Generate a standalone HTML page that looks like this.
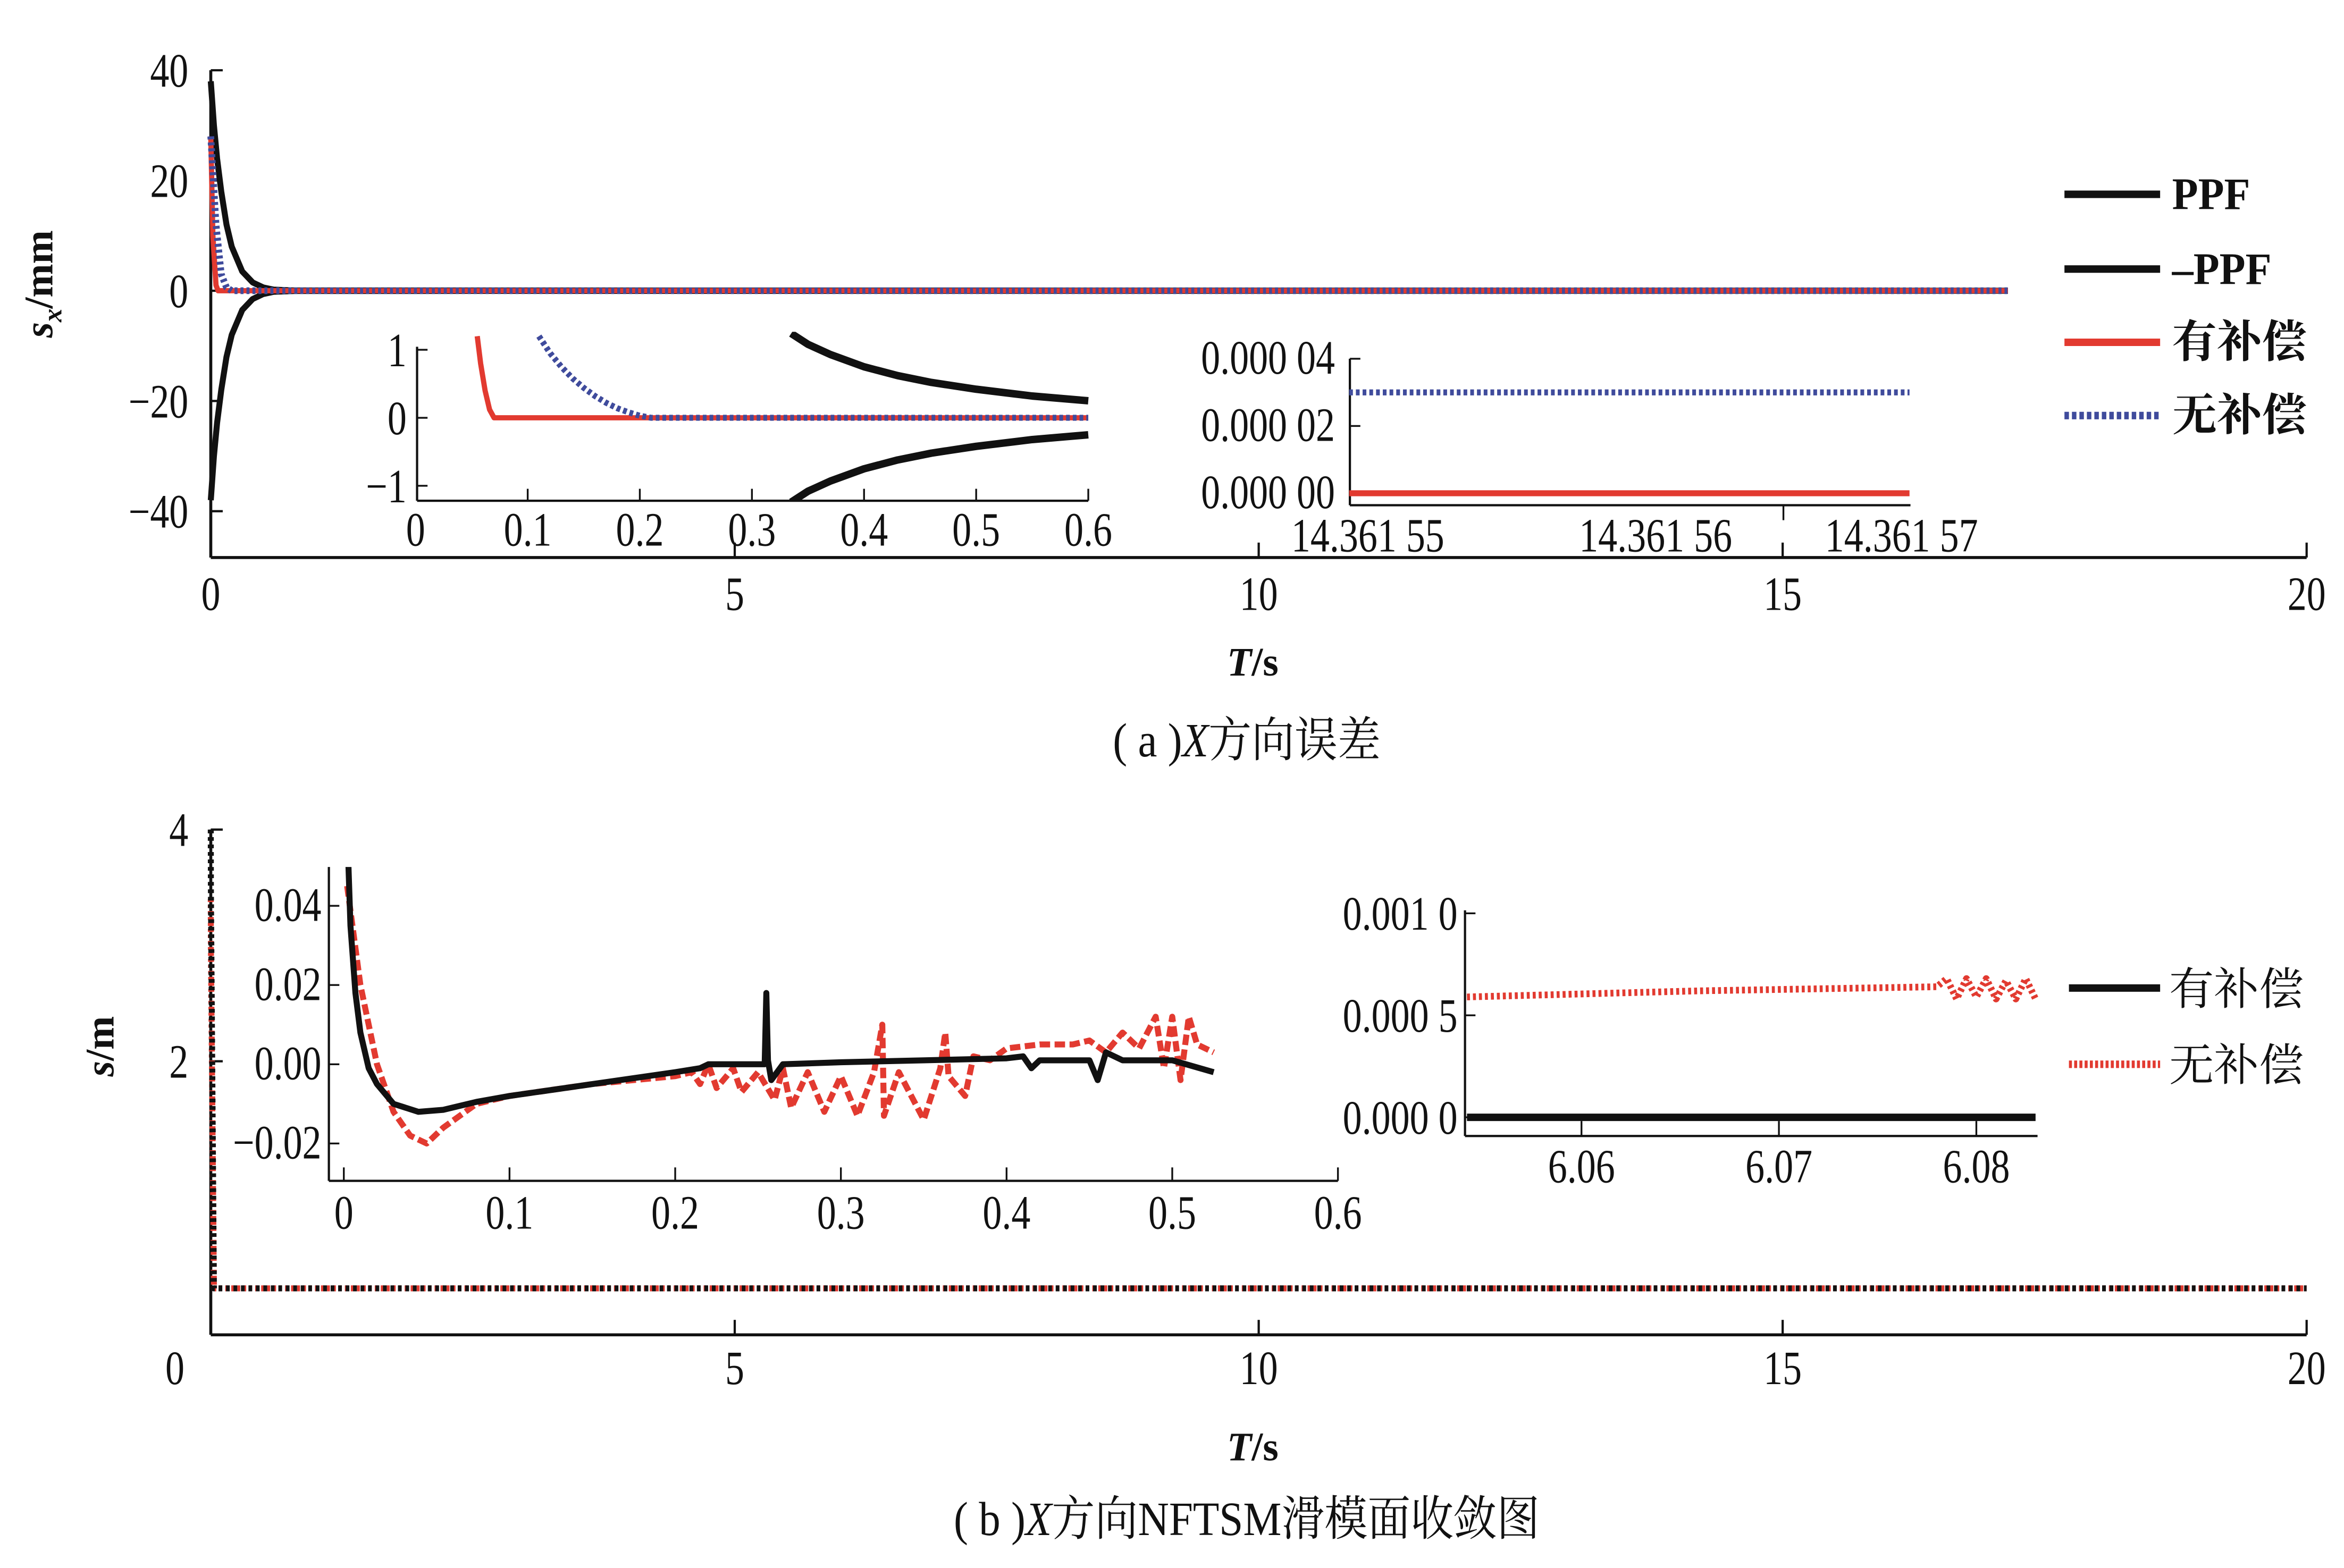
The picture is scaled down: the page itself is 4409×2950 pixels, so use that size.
<!DOCTYPE html>
<html><head><meta charset="utf-8"><style>
html,body{margin:0;padding:0;background:#fff;}
svg{display:block;}
text{font-family:"Liberation Serif","Noto Serif CJK SC",serif;fill:#111;}
</style></head><body>
<svg id="fig" width="4409" height="2950" viewBox="0 0 1568 1049" preserveAspectRatio="none" xmlns="http://www.w3.org/2000/svg">
<defs>
<clipPath id="cA1"><rect x="279" y="222" width="450" height="113"/></clipPath>
<clipPath id="cB1"><rect x="221" y="580" width="675" height="210"/></clipPath>
</defs>
<g id="root"></g>
</svg>
<script>
// ---------- Panel (a) main data ----------
const aXTicks=[0,5,10,15,20];
const aYTicks=[40,20,0,-20,-40];
const aYTickLabels=["40","20","0","\u221220","\u221240"];
const ppfT=[0,0.03,0.06,0.1,0.15,0.2,0.3,0.4,0.5,0.6,0.8,17.15];
const ppfV=[38,30,24,18,12,8,3.5,1.5,0.6,0.2,0.05,0];
const nppfV=[-38,-30,-24,-18,-12,-8,-3.5,-1.5,-0.6,-0.2,-0.05,0];
const redT=[0,0.02,0.05,0.07,17.15];
const redV=[28,10,1,0,0];
const blueT=[0,0.05,0.1,0.15,0.2,17.15];
const blueV=[28,12,3,0.6,0,0];
// ---------- Inset a1 ----------
const a1XTicks=[0,0.1,0.2,0.3,0.4,0.5,0.6];
const a1YTicks=[1,0,-1];
const a1YTickLabels=["1","0","\u22121"];
const a1PpfT=[0.335,0.35,0.37,0.4,0.43,0.46,0.5,0.55,0.6];
const a1PpfV=[1.24,1.08,0.93,0.75,0.62,0.52,0.42,0.32,0.25];
const a1NppfV=[-1.24,-1.08,-0.93,-0.75,-0.62,-0.52,-0.42,-0.32,-0.25];
const a1RedT=[0.055,0.058,0.062,0.066,0.07,0.6];
const a1RedV=[1.2,0.8,0.4,0.12,0,0];
const a1BlueT=[0.11,0.12,0.13,0.14,0.15,0.16,0.17,0.18,0.19,0.2,0.21,0.6];
const a1BlueV=[1.2,0.95,0.75,0.58,0.44,0.32,0.22,0.14,0.08,0.03,0,0];
// ---------- Inset a2 ----------
const a2YTicks=[0.00004,0.00002,0];
const a2YTickLabels=["0.000 04","0.000 02","0.000 00"];
const a2XTicks=[14.36155,14.36156,14.36157];
const a2XTickLabels=["14.361 55","14.361 56","14.361 57"];
const a2T=[14.3615493,14.3615703];
const a2BlueV=[0.00003,0.00003];
const a2RedV=[0,0];
// ---------- Panel (b) main ----------
const bXTicks=[0,5,10,15,20];
const bYTicks=[4,2];
const bBlackT=[0,0.001,0.03,20];
const bBlackV=[4,3.5,0.04,0.04];
const bRedT=[0,0.001,0.03,20];
const bRedV=[3.4,3.0,0.04,0.04];
// ---------- Inset b1 ----------
const b1XTicks=[0,0.1,0.2,0.3,0.4,0.5,0.6];
const b1YTicks=[0.04,0.02,0,-0.02];
const b1YTickLabels=["0.04","0.02","0.00","\u22120.02"];
const b1BlackT=[0.002,0.004,0.007,0.01,0.015,0.02,0.03,0.045,0.06,0.08,0.1,0.15,0.2,0.215,0.22,0.254,0.255,0.256,0.258,0.265,0.3,0.35,0.4,0.41,0.415,0.42,0.45,0.455,0.46,0.47,0.5,0.525];
const b1BlackV=[0.06,0.035,0.018,0.008,-0.001,-0.005,-0.01,-0.012,-0.0115,-0.0095,-0.008,-0.005,-0.002,-0.001,0,0,0.018,0.001,-0.004,0,0.0005,0.001,0.0015,0.002,-0.001,0.001,0.001,-0.004,0.003,0.001,0.001,-0.002];
const b1RedT=[0.002,0.01,0.02,0.03,0.04,0.05,0.06,0.08,0.1,0.15,0.2,0.21,0.215,0.22,0.225,0.235,0.24,0.25,0.26,0.265,0.27,0.28,0.29,0.3,0.31,0.32,0.325,0.326,0.335,0.35,0.36,0.363,0.365,0.375,0.38,0.39,0.4,0.42,0.44,0.45,0.46,0.47,0.48,0.49,0.495,0.5,0.505,0.51,0.515,0.525];
const b1RedV=[0.045,0.02,0.0,-0.012,-0.018,-0.02,-0.016,-0.01,-0.008,-0.005,-0.003,-0.002,-0.005,0.0,-0.006,-0.001,-0.007,-0.002,-0.009,-0.001,-0.011,-0.002,-0.012,-0.003,-0.013,-0.002,0.01,-0.013,-0.002,-0.014,-0.001,0.008,-0.003,-0.008,0.002,0.001,0.004,0.005,0.005,0.006,0.003,0.008,0.004,0.012,-0.001,0.012,-0.004,0.012,0.005,0.003];
// ---------- Inset b2 ----------
const b2YTicks=[0.001,0.0005,0];
const b2YTickLabels=["0.001 0","0.000 5","0.000 0"];
const b2XTicks=[6.06,6.07,6.08];
const b2XTickLabels=["6.06","6.07","6.08"];
const b2RedT=[6.0542,6.066,6.078,6.0785,6.079,6.0795,6.08,6.0805,6.081,6.0815,6.082,6.0825,6.083];
const b2RedV=[0.00059,0.00062,0.00064,0.00068,0.00058,0.00068,0.00059,0.00068,0.00058,0.00067,0.00058,0.00068,0.00058];
const b2BlackT=[6.0542,6.083];
const b2BlackV=[0,0];

const NS="http://www.w3.org/2000/svg";
const root=document.getElementById('root');
function mk(tag,attrs,parent){const e=document.createElementNS(NS,tag);for(const k in attrs)e.setAttribute(k,attrs[k]);(parent||root).appendChild(e);return e;}
function lin(d0,d1,r0,r1){return v=>r0+(v-d0)/(d1-d0)*(r1-r0);}
function txt(x,y,s,size,anchor,name,opts){opts=opts||{};
 const t=mk('text',{transform:`translate(${x},${y}) scale(${opts.sx||0.8},1)`,'font-size':size,'text-anchor':anchor||'middle','font-weight':opts.bold?'bold':'normal','font-style':opts.italic?'italic':'normal'});
 
 
 t.textContent=s;return t;}
function line(x1,y1,x2,y2,w,name){const l=mk('line',{x1,y1,x2,y2,stroke:'#111','stroke-width':w});
 
 return l;}
function series(T,V,sx,sy,color,w,dash,name,clip){
 let d='';for(let i=0;i<T.length;i++)d+=(i?'L':'M')+sx(T[i]).toFixed(2)+','+sy(V[i]).toFixed(2);
 const p=mk('path',{d,fill:'none',stroke:color,'stroke-width':w,'stroke-linejoin':'round'});
 if(dash)p.setAttribute('stroke-dasharray',dash);
 if(clip)p.setAttribute('clip-path',`url(#${clip})`);
 
 return p;}
function axTitle(x,y,name){const t=mk('text',{x,y,'font-size':27,'text-anchor':'middle','font-weight':'bold'});
 
 t.innerHTML='<tspan font-style="italic">T</tspan>/s';return t;}
const RED='#e23a30',BLUE='#3f4b9c',BLK='#111';
const FS=32;

// ===== Panel A =====
const ax=lin(0,20,141,1543), ay=lin(40,-40,47,342);
line(141,47,141,373,2,'a-y-axis');line(141,373,1543,373,2,'a-x-axis');
aXTicks.forEach(v=>{if(v>0)line(ax(v),373,ax(v),363,1.5,'a-x-tick');txt(ax(v),408,String(v),FS,'middle','a-x-tick-label');});
aYTicks.forEach((v,i)=>{line(141,ay(v),149,ay(v),1.5,'a-y-tick');txt(126,ay(v)+11,aYTickLabels[i],FS,'end','a-y-tick-label');});
series(ppfT,ppfV,ax,ay,BLK,4,null,'a-ppf-line');
series(ppfT,nppfV,ax,ay,BLK,4,null,'a-neg-ppf-line');
series(redT,redV,ax,ay,RED,3.5,null,'a-comp-line');
series(blueT,blueV,ax,ay,BLUE,4.5,'2 2','a-nocomp-line');
axTitle(838,452,'a-x-axis-title');
let yt=mk('text',{transform:'translate(35,190) rotate(-90)','font-size':27,'text-anchor':'middle','font-weight':'bold'});

yt.innerHTML='<tspan font-style="italic">s</tspan><tspan font-style="italic" font-size="18" dy="6">x</tspan><tspan dy="-6">/mm</tspan>';
let cap=mk('text',{transform:'translate(834,506) scale(0.9,1)','font-size':32,'text-anchor':'middle'});

cap.innerHTML='( a )<tspan font-style="italic">X</tspan>方向误差';
// inset a1
const a1x=lin(0,0.6,278,728), a1y=lin(1,-1,234,325);
line(279,232,279,335,1.5,'a1-y-axis');line(279,335,728,335,1.5,'a1-x-axis');
a1XTicks.forEach(v=>{if(v>0)line(a1x(v),335,a1x(v),327,1.2,'a1-x-tick');txt(a1x(v),365,String(v),FS,'middle','a1-x-tick-label');});
a1YTicks.forEach((v,i)=>{line(279,a1y(v),286,a1y(v),1.2,'a1-y-tick');txt(272,a1y(v)+11,a1YTickLabels[i],FS,'end','a1-y-tick-label');});
series(a1PpfT,a1PpfV,a1x,a1y,BLK,5,null,'a1-ppf-line','cA1');
series(a1PpfT,a1NppfV,a1x,a1y,BLK,5,null,'a1-neg-ppf-line','cA1');
series(a1RedT,a1RedV,a1x,a1y,RED,3.5,null,'a1-comp-line','cA1');
series(a1BlueT,a1BlueV,a1x,a1y,BLUE,4,'2.5 2','a1-nocomp-line','cA1');
// inset a2
const a2x=lin(14.36155,14.36157,915,1272), a2y=lin(0.00004,0,240,330);
line(903,240,903,338,1.5,'a2-y-axis');line(903,338,1278,338,1.5,'a2-x-axis');
a2YTicks.forEach((v,i)=>{line(903,a2y(v),910,a2y(v),1.2,'a2-y-tick');txt(893,a2y(v)+10,a2YTickLabels[i],FS,'end','a2-y-tick-label');});
line(1193,338,1193,348,1.2,'a2-x-tick');
a2XTicks.forEach((v,i)=>txt(a2x(v)+(i===1?14:0),369,a2XTickLabels[i],FS,'middle','a2-x-tick-label'));
series(a2T,a2BlueV,a2x,a2y,BLUE,4,'2.5 2','a2-nocomp-line');
series(a2T,a2RedV,a2x,a2y,RED,4,null,'a2-comp-line');
// legend a
[['PPF',BLK,null,130],['\u2013PPF',BLK,null,180],['有补偿',RED,null,229],['无补偿',BLUE,'3 2',278]].forEach(([lab,c,d,y])=>{
 const l=mk('line',{x1:1381,y1:y,x2:1445,y2:y,stroke:c,'stroke-width':5});if(d)l.setAttribute('stroke-dasharray',d);
 
 txt(1453,y+10,lab,30,'start','a-legend-label',{bold:true,sx:lab.indexOf('PPF')>=0?0.95:1});
});

// ===== Panel B =====
const bx=lin(0,20,141,1543), by=lin(4,0,555,865);
line(141,555,141,893,2,'b-y-axis');line(141,893,1543,893,2,'b-x-axis');
bXTicks.forEach(v=>{if(v>0)line(bx(v),893,bx(v),883,1.5,'b-x-tick');txt(v===0?117:bx(v),926,String(v),FS,'middle','b-x-tick-label');});
bYTicks.forEach(v=>{line(141,by(v),149,by(v),1.5,'b-y-tick');txt(126,by(v)+11,String(v),FS,'end','b-y-tick-label');});
series(bRedT,bRedV,bx,by,RED,4,'2 2','b-nocomp-line');
series(bBlackT,bBlackV,bx,by,BLK,4,'2.5 2.5','b-comp-line');
axTitle(838,977,'b-x-axis-title');
yt=mk('text',{transform:'translate(76,700) rotate(-90)','font-size':27,'text-anchor':'middle','font-weight':'bold'});

yt.innerHTML='<tspan font-style="italic">s</tspan><tspan>/m</tspan>';
cap=mk('text',{transform:'translate(834,1027) scale(0.9,1)','font-size':32,'text-anchor':'middle'});

cap.innerHTML='( b )<tspan font-style="italic">X</tspan>方向NFTSM滑模面收敛图';
// inset b1
const b1x=lin(0,0.6,230,895), b1y=lin(0.04,-0.02,606,765);
line(220,580,220,790,1.5,'b1-y-axis');line(220,790,895,790,1.5,'b1-x-axis');
b1XTicks.forEach(v=>{line(b1x(v),790,b1x(v),781,1.2,'b1-x-tick');txt(b1x(v),822,String(v),FS,'middle','b1-x-tick-label');});
b1YTicks.forEach((v,i)=>{line(220,b1y(v),227,b1y(v),1.2,'b1-y-tick');txt(215,b1y(v)+10,b1YTickLabels[i],FS,'end','b1-y-tick-label');});
series(b1RedT,b1RedV,b1x,b1y,RED,4,'7 3','b1-nocomp-line','cB1');
series(b1BlackT,b1BlackV,b1x,b1y,BLK,4,null,'b1-comp-line','cB1');
// inset b2
const b2x=lin(6.0541,6.0831,980,1363), b2y=lin(0.001,0,611,747.5);
line(980,609,980,760,1.5,'b2-y-axis');line(980,760,1363,760,1.5,'b2-x-axis');
b2XTicks.forEach((v,i)=>{line(b2x(v),760,b2x(v),750,1.2,'b2-x-tick');txt(b2x(v),791,b2XTickLabels[i],FS,'middle','b2-x-tick-label');});
b2YTicks.forEach((v,i)=>{line(980,b2y(v),987,b2y(v),1.2,'b2-y-tick');txt(975,b2y(v)+11,b2YTickLabels[i],FS,'end','b2-y-tick-label');});
series(b2RedT,b2RedV,b2x,b2y,RED,4.5,'2 2','b2-nocomp-line');
series(b2BlackT,b2BlackV,b2x,b2y,BLK,5,null,'b2-comp-line');
// legend b
[['有补偿',BLK,null,661],['无补偿',RED,'2 1.5',712]].forEach(([lab,c,d,y])=>{
 const l=mk('line',{x1:1384,y1:y,x2:1445,y2:y,stroke:c,'stroke-width':5});if(d)l.setAttribute('stroke-dasharray',d);
 
 txt(1451,y+11,lab,30,'start','b-legend-label',{sx:1});
});
</script>
</body></html>
